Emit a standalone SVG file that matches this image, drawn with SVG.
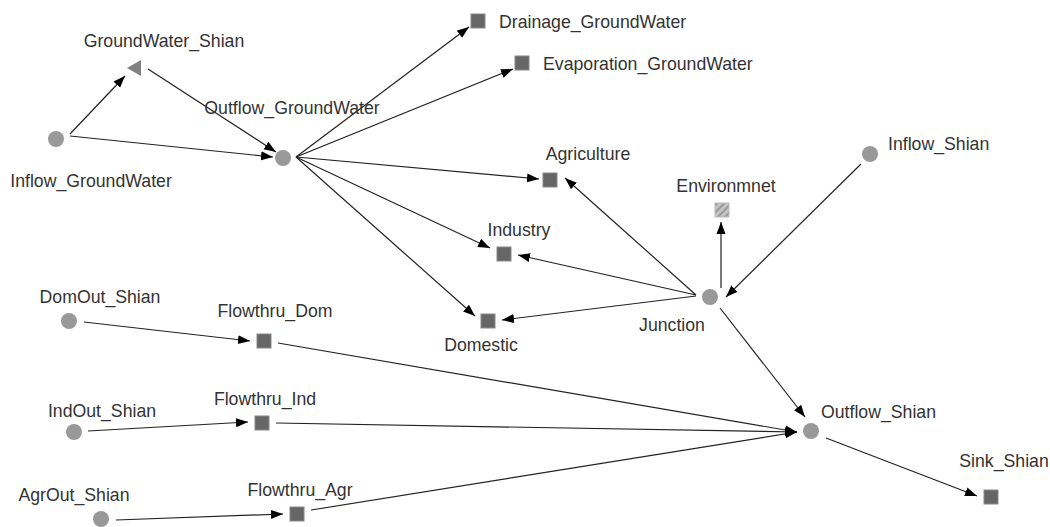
<svg xmlns="http://www.w3.org/2000/svg" width="1050" height="527" viewBox="0 0 1050 527">
<style>
text{font-family:"Liberation Sans",Arial,sans-serif;font-size:17.7px;fill:#333}
.c{fill:#999}
.s{fill:#666;stroke:#888;stroke-width:1}
line{stroke:#222;stroke-width:1.2;marker-end:url(#a)}
</style>
<defs>
<marker id="a" markerUnits="userSpaceOnUse" markerWidth="12" markerHeight="10" refX="12" refY="5" orient="auto"><path d="M0,0.5 L12,5 L0,9.5 Z" fill="#000"/></marker>
<pattern id="h" patternUnits="userSpaceOnUse" width="5" height="5" patternTransform="rotate(45)"><rect width="5" height="5" fill="#c4c4c4"/><rect width="2" height="5" fill="#999"/></pattern>
</defs>
<rect width="1050" height="527" fill="#fff"/>
<g id="connectors">
<line x1="70" y1="134" x2="125" y2="76"/>
<line x1="148" y1="69" x2="276" y2="152"/>
<line x1="70" y1="136" x2="273" y2="157"/>
<line x1="296" y1="157" x2="469" y2="27"/>
<line x1="296" y1="157" x2="513" y2="69"/>
<line x1="296" y1="157" x2="539" y2="179"/>
<line x1="296" y1="157" x2="490" y2="248"/>
<line x1="296" y1="157" x2="475" y2="316"/>
<line x1="696" y1="295" x2="565" y2="178"/>
<line x1="696" y1="295" x2="518" y2="255"/>
<line x1="696" y1="296" x2="502" y2="320"/>
<line x1="721" y1="288" x2="721" y2="222"/>
<line x1="861" y1="164" x2="726" y2="297"/>
<line x1="720" y1="308" x2="805" y2="417"/>
<line x1="84" y1="322" x2="250" y2="341"/>
<line x1="88" y1="431" x2="248" y2="422"/>
<line x1="116" y1="520" x2="283" y2="514"/>
<line x1="278" y1="343" x2="797" y2="432"/>
<line x1="276" y1="423" x2="797" y2="432"/>
<line x1="311" y1="510" x2="797" y2="432"/>
<line x1="826" y1="438" x2="977" y2="496"/>
</g>
<g id="GroundWater_Shian"><polygon points="127,68 141,60 141,76" fill="#808080"/><text x="164" y="47" text-anchor="middle">GroundWater_Shian</text></g>
<g id="Inflow_GroundWater"><circle class="c" cx="56" cy="139" r="8"/><text x="91" y="187" text-anchor="middle">Inflow_GroundWater</text></g>
<g id="Outflow_GroundWater"><circle class="c" cx="283" cy="158" r="8"/><text x="292" y="114" text-anchor="middle">Outflow_GroundWater</text></g>
<g id="Drainage_GroundWater"><rect class="s" x="471" y="14" width="14" height="14"/><text x="499" y="28">Drainage_GroundWater</text></g>
<g id="Evaporation_GroundWater"><rect class="s" x="515" y="56" width="14" height="14"/><text x="543" y="70">Evaporation_GroundWater</text></g>
<g id="Agriculture"><rect class="s" x="543" y="173" width="14" height="14"/><text x="588" y="160" text-anchor="middle">Agriculture</text></g>
<g id="Environmnet"><rect x="715" y="203" width="14" height="14" fill="url(#h)" stroke="#bbb"/><text x="726" y="192" text-anchor="middle">Environmnet</text></g>
<g id="Inflow_Shian"><circle class="c" cx="870" cy="154" r="8"/><text x="888" y="150">Inflow_Shian</text></g>
<g id="Industry"><rect class="s" x="497" y="247" width="14" height="14"/><text x="519" y="236" text-anchor="middle">Industry</text></g>
<g id="Junction"><circle class="c" cx="710" cy="297" r="8"/><text x="672" y="331" text-anchor="middle">Junction</text></g>
<g id="Domestic"><rect class="s" x="481" y="314" width="14" height="14"/><text x="481" y="351" text-anchor="middle">Domestic</text></g>
<g id="DomOut_Shian"><circle class="c" cx="69" cy="321" r="8"/><text x="100" y="303" text-anchor="middle">DomOut_Shian</text></g>
<g id="Flowthru_Dom"><rect class="s" x="257" y="334" width="14" height="14"/><text x="275" y="317" text-anchor="middle">Flowthru_Dom</text></g>
<g id="IndOut_Shian"><circle class="c" cx="74" cy="432" r="8"/><text x="102" y="417" text-anchor="middle">IndOut_Shian</text></g>
<g id="Flowthru_Ind"><rect class="s" x="255" y="416" width="14" height="14"/><text x="265" y="405" text-anchor="middle">Flowthru_Ind</text></g>
<g id="AgrOut_Shian"><circle class="c" cx="101" cy="519" r="8"/><text x="74" y="501" text-anchor="middle">AgrOut_Shian</text></g>
<g id="Flowthru_Agr"><rect class="s" x="290" y="507" width="14" height="14"/><text x="300" y="496" text-anchor="middle">Flowthru_Agr</text></g>
<g id="Outflow_Shian"><circle class="c" cx="811" cy="431" r="8"/><text x="821" y="418">Outflow_Shian</text></g>
<g id="Sink_Shian"><rect class="s" x="984" y="490" width="14" height="14"/><text x="1004" y="467" text-anchor="middle">Sink_Shian</text></g>
</svg>
